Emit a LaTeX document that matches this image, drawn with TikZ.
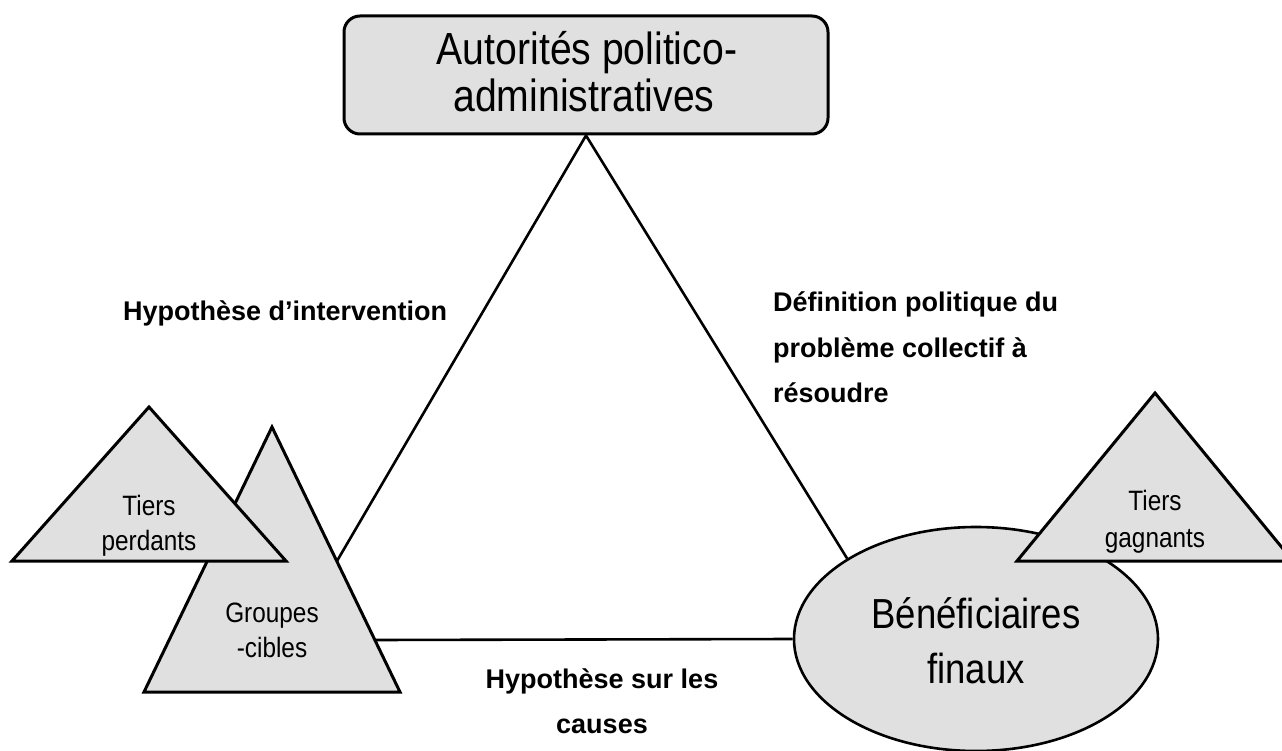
\documentclass[tikz,border=0pt]{standalone}
\usepackage{fontspec}
\setmainfont{Liberation Sans}[FakeStretch=0.87]
\newfontfamily\boldf{Liberation Sans}[FakeStretch=1.0]
\usetikzlibrary{shapes.geometric}
\definecolor{fillg}{HTML}{E0E0E0}
\begin{document}
\begin{tikzpicture}[x=1pt,y=-1pt,
  shapeline/.style={draw=black,line width=3pt,fill=fillg,line join=miter},
  conn/.style={draw=black,line width=2.6pt},
  bigtxt/.style={anchor=base,inner sep=0pt,font=\fontsize{45}{47}\selectfont},
  midtxt/.style={anchor=base,inner sep=0pt,font=\fontsize{42}{50}\selectfont},
  smalltxt/.style={anchor=base,inner sep=0pt,font=\fontsize{28}{34}\selectfont},
  lbl/.style={inner sep=0pt,font=\boldf\bfseries\fontsize{27}{30}\selectfont}]
\useasboundingbox (0,0) rectangle (1282,751);

% main boxes
\node[draw=black,line width=3pt,fill=fillg,rounded corners=16pt,
      minimum width=484pt,minimum height=118pt,inner sep=0pt] (auth) at (586,75) {};
\node[ellipse,draw=black,line width=2.6pt,fill=fillg,
      minimum width=364pt,minimum height=224pt,inner sep=0pt] (benef) at (976,639) {};

% triangle points
\coordinate (gA) at (272,427);
\coordinate (gL) at (144,692);
\coordinate (gR) at (400,692);
\coordinate (gE) at (337,561);
\coordinate (gB) at (375,640);
\coordinate (pA) at (149,407);
\coordinate (pL) at (12,561);
\coordinate (pR) at (286,561);
\coordinate (wA) at (1155,393);
\coordinate (wL) at (1017,561);
\coordinate (wR) at (1293,561);

% connectors
\draw[conn] (auth.south) -- (gE);
\draw[conn] (auth.south) -- (benef.148);
\draw[conn] (gB) -- (benef.west);

% triangles
\path[shapeline] (gA) -- (gR) -- (gL) -- cycle;
\path[shapeline] (pA) -- (pR) -- (pL) -- cycle;
\path[shapeline] (wA) -- (wR) -- (wL) -- cycle;

% texts
\node[bigtxt] (t1) at (587,65) {Autorités politico-};
\node[bigtxt] (t2) at (584,112) {administratives};
\node[midtxt] (b1) at (976,628) {Bénéficiaires};
\node[midtxt] (b2) at (976,683) {finaux};
\node[smalltxt] (p1) at (149,515) {Tiers};
\node[smalltxt] (p2) at (149,550) {perdants};
\node[smalltxt] (g1) at (272,622) {Groupes};
\node[smalltxt] (g2) at (272,657) {-cibles};
\node[smalltxt] (w1) at (1155,510) {Tiers};
\node[smalltxt] (w2) at (1155,547) {gagnants};

\node[lbl,anchor=base west] (h1) at (123,320) {Hypothèse d’intervention};
\node[lbl,anchor=base west] (d1) at (773,312) {Définition politique du};
\node[lbl,anchor=base west] (d2) at (773,357) {problème collectif à};
\node[lbl,anchor=base west] (d3) at (773,402) {résoudre};
\node[lbl,anchor=base] (c1) at (602,688) {Hypothèse sur les};
\node[lbl,anchor=base] (c2) at (602,733) {causes};
\end{tikzpicture}
\end{document}
